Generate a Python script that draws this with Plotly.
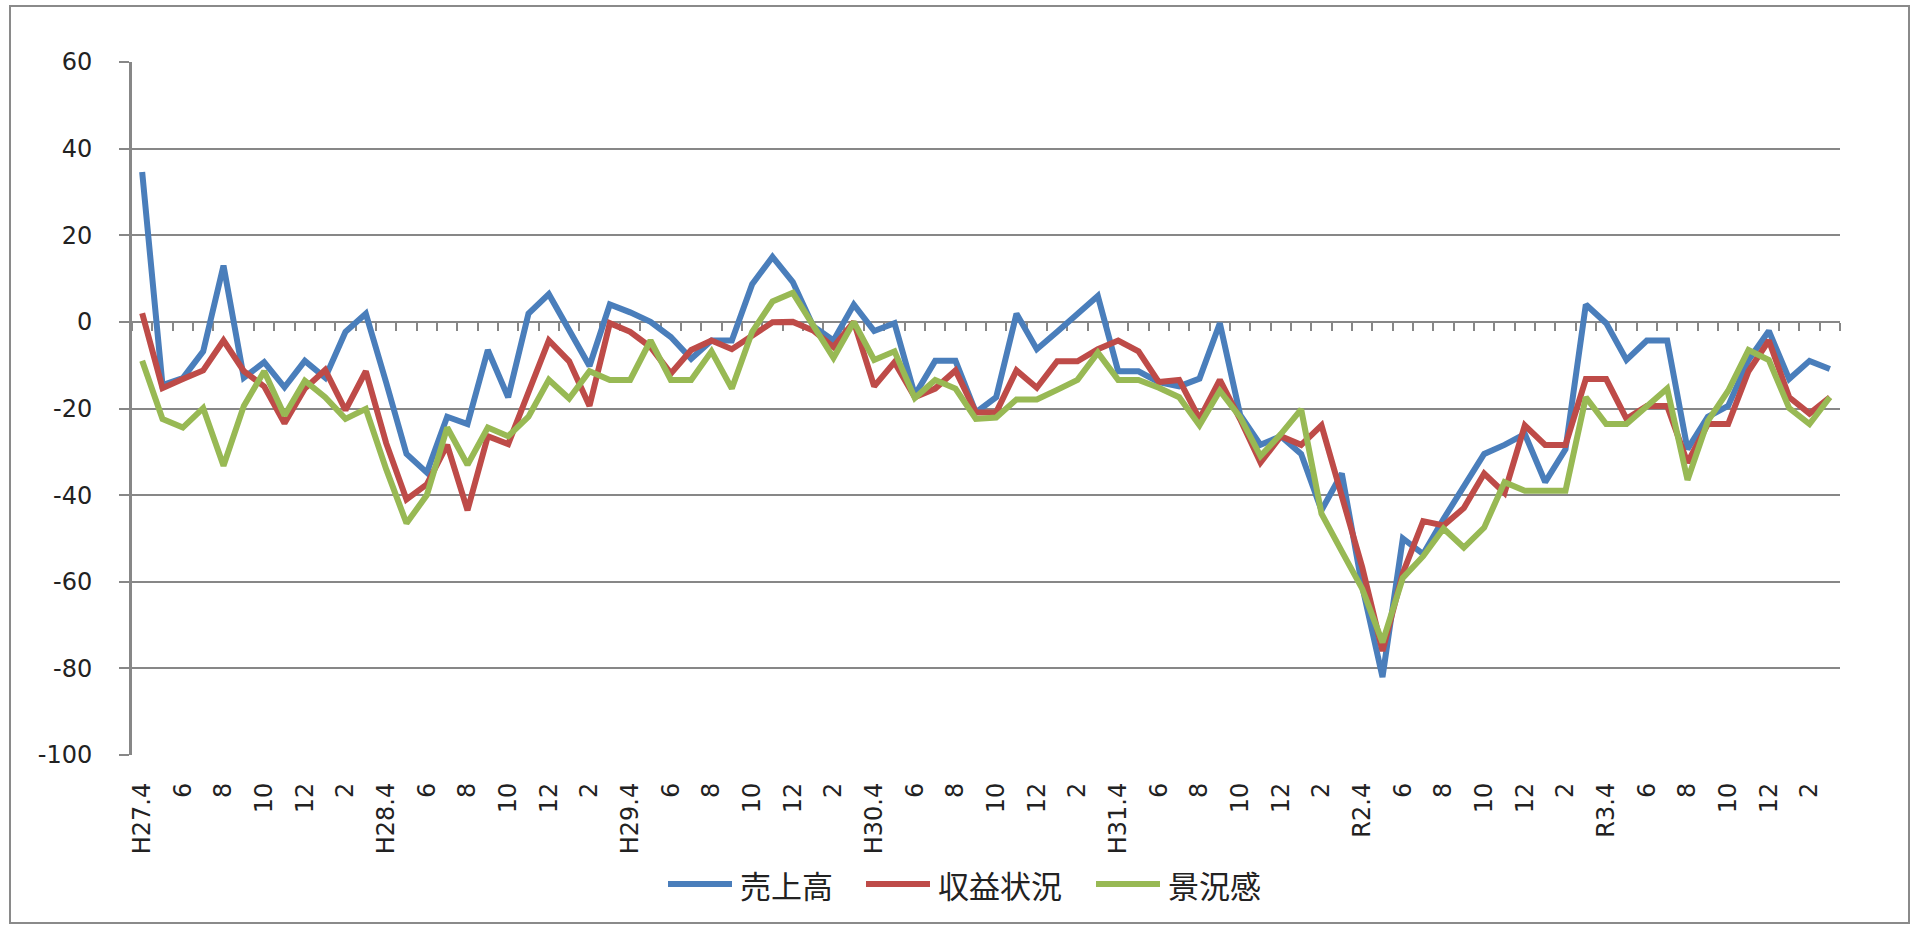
import plotly.graph_objects as go

# ---------------- data ----------------
fiscal_years = ["H27", "H28", "H29", "H30", "H31", "R2", "R3"]
months = [4, 5, 6, 7, 8, 9, 10, 11, 12, 1, 2, 3]
categories = [f"{fy}.{m}" for fy in fiscal_years for m in months]

tick_labels = [
    "H27.4", "6", "8", "10", "12", "2",
    "H28.4", "6", "8", "10", "12", "2",
    "H29.4", "6", "8", "10", "12", "2",
    "H30.4", "6", "8", "10", "12", "2",
    "H31.4", "6", "8", "10", "12", "2",
    "R2.4", "6", "8", "10", "12", "2",
    "R3.4", "6", "8", "10", "12", "2",
]

series_names = ["売上高", "収益状況", "景況感"]

uriage = [
    34.6, -14.6, -13.0, -6.8, 13.0, -12.9, -9.3, -15.1, -9.0, -12.9, -2.3, 1.9,
    -14.0, -30.5, -34.8, -21.9, -23.6, -6.5, -17.4, 1.9, 6.4, -1.8, -10.2, 4.0,
    2.2, 0.0, -3.5, -8.5, -4.3, -4.3, 8.7, 15.0, 9.2, -1.0, -4.3, 4.0,
    -2.1, -0.3, -16.9, -9.0, -9.0, -20.9, -17.4, 1.9, -6.3, -2.3, 1.9, 6.0,
    -11.4, -11.4, -13.9, -14.9, -13.1, -0.3, -21.5, -28.4, -26.4, -30.5, -43.5, -35.0,
    -61.0, -82.0, -50.0, -53.6, -45.5, -38.3, -30.5, -28.4, -25.9, -37.0, -29.4, 4.0,
    -0.3, -8.8, -4.3, -4.3, -29.4, -21.9, -19.4, -8.8, -2.1, -13.2, -9.0, -10.9,
]
shueki = [
    2.0, -15.3, -13.2, -11.2, -4.3, -11.4, -14.9, -23.4, -15.4, -11.1, -20.4, -11.4,
    -28.0, -41.0, -37.5, -28.4, -43.5, -26.4, -28.2, -15.9, -4.3, -9.1, -19.4, -0.3,
    -2.3, -5.8, -11.9, -6.5, -4.3, -6.3, -3.3, -0.1, 0.0, -2.0, -5.8, 0.0,
    -14.9, -9.3, -17.4, -15.4, -11.2, -20.9, -20.9, -11.2, -15.2, -9.1, -9.1, -6.3,
    -4.3, -6.8, -13.9, -13.4, -22.4, -13.4, -22.5, -32.5, -26.4, -28.4, -23.9, -40.0,
    -56.6, -76.0, -58.0, -46.0, -47.0, -43.0, -35.0, -39.5, -23.9, -28.4, -28.4, -13.2,
    -13.2, -22.4, -19.4, -19.4, -32.5, -23.6, -23.6, -11.4, -4.3, -17.4, -21.2, -17.4,
]
keikyo = [
    -9.0, -22.4, -24.4, -19.9, -33.2, -19.4, -11.4, -21.6, -13.6, -17.4, -22.4, -20.1,
    -34.0, -46.5, -40.0, -24.4, -33.0, -24.4, -26.4, -21.9, -13.4, -17.7, -11.4, -13.4,
    -13.4, -4.3, -13.4, -13.4, -6.8, -15.4, -2.3, 4.7, 6.7, -1.0, -8.3, 0.0,
    -8.8, -6.8, -17.6, -13.4, -15.4, -22.4, -22.1, -17.9, -17.9, -15.7, -13.4, -7.1,
    -13.4, -13.4, -15.2, -17.4, -23.9, -15.9, -22.0, -31.0, -25.9, -20.2, -44.3, -53.0,
    -61.6, -74.0, -59.1, -54.1, -47.7, -52.1, -47.5, -37.0, -39.0, -39.0, -39.0, -17.4,
    -23.6, -23.6, -19.6, -15.4, -36.5, -22.9, -15.9, -6.5, -8.8, -19.9, -23.6, -17.4,
]

y_range = [-100, 60]
y_ticks = list(range(-100, 61, 20))
y_tick_labels = [str(v) for v in y_ticks]  # plain hyphen-minus like the original

# ---------------- styling ----------------
colors = ["#4A7EBB", "#BE4B48", "#98B954"]
grid_col = "#878787"
text_col = "#222222"
W, H = 1912, 927
L, R, T, B = 132, 72, 62, 172
plot_w = W - L - R
plot_h = H - T - B


def px2x(px):
    return (px - L) / plot_w


def py2y(py):
    return (H - B - py) / plot_h


x_idx = list(range(len(categories)))
tick_idx = [i for i in x_idx if i % 2 == 0]
boundaries = [i - 0.5 for i in x_idx] + [x_idx[-1] + 0.5]
x_range = [x_idx[0] - 0.5, x_idx[-1] + 0.5]
zero_pos = (0 - y_range[0]) / (y_range[1] - y_range[0])

fig = go.Figure()
for name, vals, col, xa in zip(series_names, [uriage, shueki, keikyo], colors, ["x", "x", "x2"]):
    fig.add_trace(go.Scatter(
        x=x_idx, y=vals, mode="lines", name=name, xaxis=xa, yaxis="y",
        line=dict(color=col, width=6), showlegend=False,
        customdata=categories, hovertemplate="%{customdata}: %{y}<extra>" + name + "</extra>",
    ))

fig.update_layout(
    width=W, height=H, autosize=False,
    margin=dict(l=L, r=R, t=T, b=B, pad=0),
    paper_bgcolor="white", plot_bgcolor="white",
    xaxis=dict(
        range=x_range, tickmode="array", tickvals=tick_idx, ticktext=tick_labels,
        tickangle=-90, showgrid=False, zeroline=False, showline=False, ticks="",
        tickfont=dict(family="DejaVu Sans", size=24, color=text_col),
        ticklabelstandoff=22,
    ),
    xaxis2=dict(
        overlaying="x", anchor="free", position=zero_pos, side="bottom",
        range=x_range, tickmode="array", tickvals=boundaries,
        ticks="outside", ticklen=8, tickwidth=2, tickcolor=grid_col,
        showticklabels=False, showline=True, linecolor=grid_col, linewidth=2,
        showgrid=False, zeroline=False, layer="below traces",
    ),
    yaxis=dict(
        range=y_range, tickmode="array", tickvals=y_ticks, ticktext=y_tick_labels,
        showgrid=True, gridcolor=grid_col, gridwidth=2,
        showline=True, linecolor=grid_col, linewidth=3,
        ticks="outside", ticklen=10, tickwidth=2, tickcolor=grid_col,
        zeroline=False, layer="below traces",
        tickfont=dict(family="DejaVu Sans", size=24, color=text_col),
        ticklabelstandoff=22,
    ),
)

# chart border
fig.add_shape(type="rect", xref="paper", yref="paper",
              x0=px2x(10), x1=px2x(1909), y0=py2y(923), y1=py2y(6),
              line=dict(color="#8a8a8a", width=2), fillcolor="rgba(0,0,0,0)", layer="below")

# custom legend (long line samples like the original)
legend_y = 884
legend_starts = [668, 866, 1096]
legend_line_len = 64
for name, col, x0 in zip(series_names, colors, legend_starts):
    fig.add_shape(type="line", xref="paper", yref="paper",
                  x0=px2x(x0), x1=px2x(x0 + legend_line_len),
                  y0=py2y(legend_y), y1=py2y(legend_y),
                  line=dict(color=col, width=6))
    fig.add_annotation(xref="paper", yref="paper", x=px2x(x0 + legend_line_len + 6),
                       y=py2y(legend_y), xanchor="left", yanchor="middle",
                       text=name, showarrow=False,
                       font=dict(family="Noto Sans CJK JP", size=31, color=text_col))

fig.write_html(
    "out.html",
    config={"displayModeBar": False},
    post_script="document.body.style.margin='0';document.body.style.overflow='hidden';",
)
